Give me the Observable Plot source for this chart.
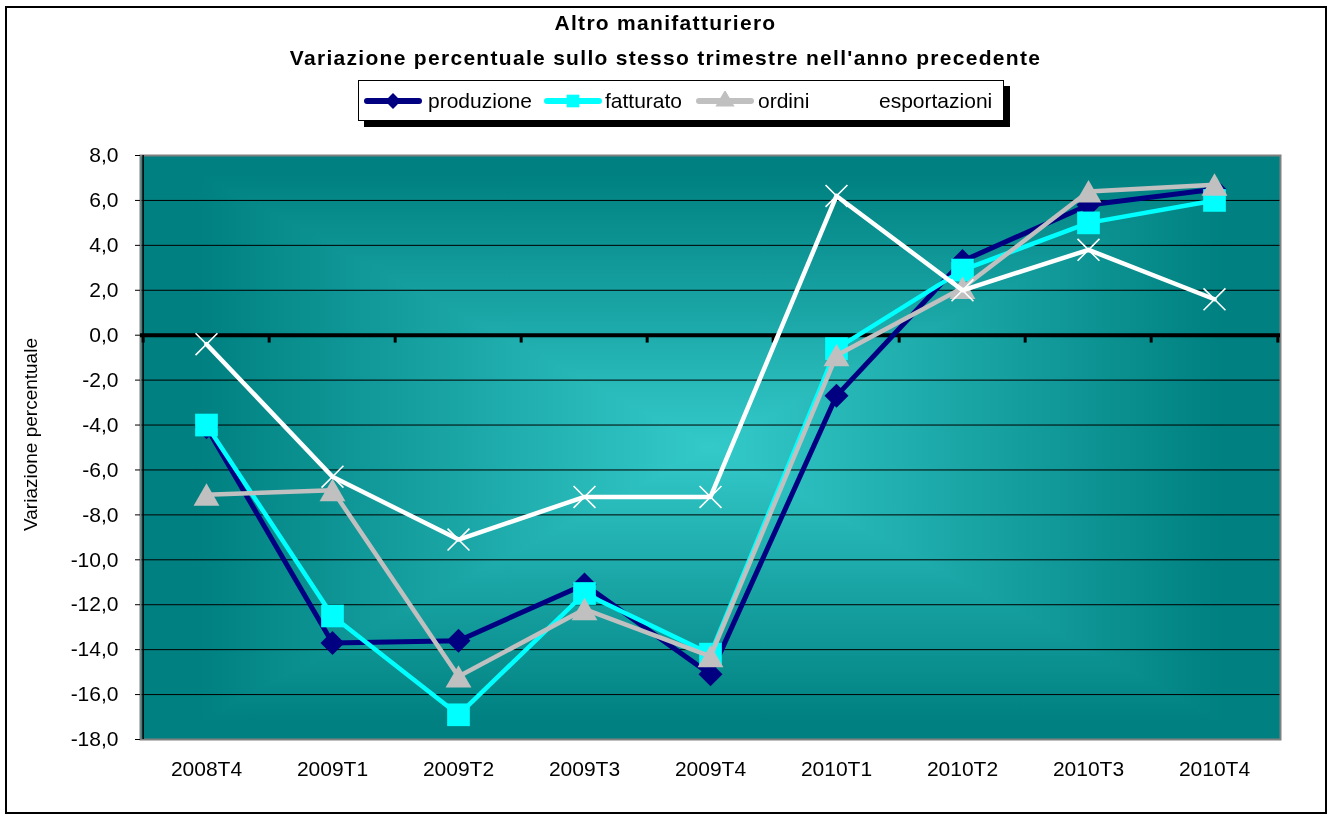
<!DOCTYPE html>
<html>
<head>
<meta charset="utf-8">
<script src="https://cdn.jsdelivr.net/npm/d3@7"></script>
<script src="https://cdn.jsdelivr.net/npm/@observablehq/plot@0.6"></script>
<style>
  body { margin: 0; background: #fff; font-family: "Liberation Sans", Arial, sans-serif; }
  #page { position: relative; width: 1331px; height: 816px; overflow: hidden; background: #fff; }
  #title { position: absolute; left: 0; top: 5px; width: 1331px; text-align: center; font-weight: bold;
           font-size: 21px; line-height: 35px; letter-spacing: 1.3px; color: #000; }
  #legend { position: absolute; left: 358px; top: 80px; width: 644px; height: 39px; border: 1px solid #000;
            background: #fff; box-shadow: 6px 6px 0 #000; }
  .item { position: absolute; top: 0; height: 39px; display: flex; align-items: center; font-size: 21px; color: #000; }
  .item svg { display: block; }
  #chart { position: absolute; left: 0; top: 130px; }
  #border { position: absolute; left: 5px; top: 6px; width: 1318px; height: 804px; border: 2px solid #000; pointer-events: none; }
</style>
</head>
<body>
<svg width="0" height="0" style="position:absolute">
  <defs>
    <linearGradient id="gh" x1="0" x2="1" y1="0" y2="0">
      <stop offset="0" stop-color="#008080"/>
      <stop offset="0.05" stop-color="#008080"/>
      <stop offset="0.5" stop-color="#34CACA"/>
      <stop offset="0.95" stop-color="#008080"/>
      <stop offset="1" stop-color="#008080"/>
    </linearGradient>
    <linearGradient id="gv" x1="0" x2="0" y1="0" y2="1">
      <stop offset="0" stop-color="#008080"/>
      <stop offset="0.03" stop-color="#008080"/>
      <stop offset="0.5" stop-color="#34CACA"/>
      <stop offset="0.97" stop-color="#008080"/>
      <stop offset="1" stop-color="#008080"/>
    </linearGradient>
  </defs>
</svg>
<div id="page">
  <div id="title">Altro manifatturiero<br>Variazione percentuale sullo stesso trimestre nell'anno precedente</div>
  <div id="legend"></div>
  <div id="chart"></div>
  <div id="border"></div>
</div>
<script>
// ---- data ----
const categories = ["2008T4", "2009T1", "2009T2", "2009T3", "2009T4", "2010T1", "2010T2", "2010T3", "2010T4"];
const produzione   = [-4.1, -13.7, -13.6, -11.1, -15.1, -2.7, 3.3, 5.8, 6.5];
const fatturato    = [-4.0, -12.5, -16.9, -11.5, -14.2, -0.6, 2.9, 5.0, 6.0];
const ordini       = [-7.1, -6.9, -15.2, -12.2, -14.3, -0.9, 2.1, 6.4, 6.7];
const esportazioni = [-0.4, -6.3, -9.1, -7.2, -7.2, 6.2, 2.0, 3.8, 1.6];
const seriesNames  = ["produzione", "fatturato", "ordini", "esportazioni"];
const yTicks = [-18, -16, -14, -12, -10, -8, -6, -4, -2, 0, 2, 4, 6, 8];
const yLabel = "Variazione percentuale";

// ---- styles ----
const styles = {
  produzione:   {color: "#000080", symbol: "diamond2", d3sym: d3.symbolDiamond2, r: 10.8, lw: 5, fill: "#000080", stroke: "none", sw: 0, dy: 0},
  fatturato:    {color: "#00FFFF", symbol: "square",   d3sym: d3.symbolSquare,   r: 12.8, lw: 4.5, fill: "#00FFFF", stroke: "none", sw: 0, dy: 0},
  ordini:       {color: "#C0C0C0", symbol: "triangle", d3sym: d3.symbolTriangle, r: 9.6,  lw: 4.5, fill: "#C0C0C0", stroke: "none", sw: 0, dy: 3.5},
  esportazioni: {color: "#FFFFFF", symbol: "times",    d3sym: d3.symbolTimes,    r: 10,   lw: 4.5, fill: "none",    stroke: "#FFFFFF", sw: 1.6, dy: 0}
};
const values = {produzione, fatturato, ordini, esportazioni};

// ---- legend ----
const legendPos = {produzione: [5, 69], fatturato: [185, 246], ordini: [337, 399], esportazioni: [457, 520]};
const legend = document.getElementById("legend");
for (const name of seriesNames) {
  const s = styles[name];
  const [sx, tx] = legendPos[name];
  const sw = d3.create("svg").attr("width", 58).attr("height", 20);
  sw.append("line").attr("x1", 3).attr("x2", 55).attr("y1", 10).attr("y2", 10)
    .attr("stroke", s.color).attr("stroke-width", 6).attr("stroke-linecap", "round");
  sw.append("path").attr("d", d3.symbol(s.d3sym, 160)())
    .attr("transform", "translate(29,10)")
    .attr("fill", s.fill).attr("stroke", s.stroke).attr("stroke-width", s.sw);
  const a = document.createElement("div");
  a.className = "item"; a.style.left = sx + "px";
  a.appendChild(sw.node());
  legend.appendChild(a);
  const t = document.createElement("div");
  t.className = "item"; t.style.left = tx + "px"; t.textContent = name;
  legend.appendChild(t);
}

// ---- chart ----
const W = 1331, H = 680, mL = 140, mR = 51, mT = 25, mB = 71;
const bw = (W - mL - mR) / categories.length;
const fmt = d => d.toFixed(1).replace(".", ",");

const marks = [
  Plot.frame({fill: "url(#gh)"}),
  Plot.frame({fill: "url(#gv)", mixBlendMode: "darken"}),
  Plot.ruleY(yTicks.filter(d => d !== 0), {stroke: "#000", strokeWidth: 1}),
  Plot.frame({stroke: "#808080", strokeWidth: 2}),
  Plot.ruleX([categories[0]], {x: d => d, dx: -bw / 2, y1: yTicks[0], y2: yTicks[yTicks.length - 1], stroke: "#000", strokeWidth: 1.5}),
  Plot.ruleY([0], {stroke: "#000", strokeWidth: 4}),
  Plot.ruleX(categories, {x: d => d, dx: -bw / 2, y1: 0, y2: -0.35, stroke: "#000", strokeWidth: 3}),
  Plot.ruleX([categories[categories.length - 1]], {x: d => d, dx: bw / 2, y1: 0, y2: -0.35, stroke: "#000", strokeWidth: 3})
];
for (const name of seriesNames) {
  const s = styles[name];
  const data = categories.map((c, i) => ({cat: c, v: values[name][i]}));
  marks.push(Plot.line(data, {x: "cat", y: "v", stroke: s.color, strokeWidth: s.lw}));
  marks.push(Plot.dot(data, {x: "cat", y: "v", symbol: s.symbol, r: s.r, fill: s.fill, stroke: s.stroke, strokeWidth: s.sw, dy: s.dy}));
}
marks.push(
  Plot.axisY({ticks: yTicks, tickFormat: fmt, tickSize: 5, tickPadding: 17, label: null, fontSize: 21}),
  Plot.axisX({anchor: "bottom", tickSize: 0, tickPadding: 22, label: null, fontSize: 21}),
  Plot.text([yLabel], {frameAnchor: "left", rotate: -90, dx: -110, dy: -13, textAnchor: "middle", fontSize: 19, fill: "#000"})
);

const chart = Plot.plot({
  width: W, height: H,
  marginLeft: mL, marginRight: mR, marginTop: mT, marginBottom: mB,
  style: {background: "transparent", color: "#000", fontFamily: "'Liberation Sans', Arial, sans-serif", fontSize: "21px"},
  x: {type: "band", domain: categories, padding: 0},
  y: {domain: [yTicks[0], yTicks[yTicks.length - 1]], nice: false},
  marks
});
document.getElementById("chart").appendChild(chart);
</script>
</body>
</html>
